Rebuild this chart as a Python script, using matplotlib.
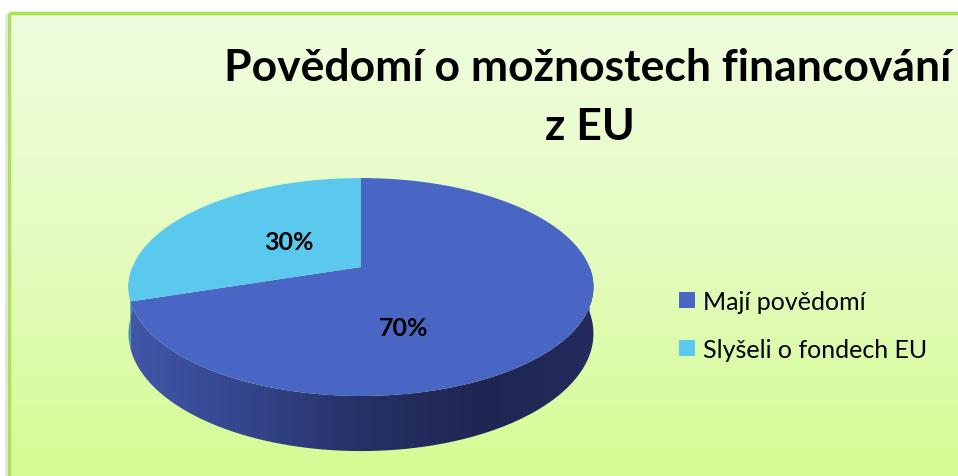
import numpy as np
import matplotlib
matplotlib.use("Agg")
import matplotlib.pyplot as plt
from matplotlib.path import Path
from matplotlib.patches import Polygon
from matplotlib.colors import LinearSegmentedColormap
import matplotlib.transforms as mtransforms

# data
labels = ["Mají povědomí", "Slyšeli o fondech EU"]
values = [70, 30]
title_lines = ["Povědomí o možnostech financování", "z EU"]

colors = ["#4A66C4", "#5BC9EE"]
side_colors = {
    0: ["#4259A9", "#34468E", "#263166", "#1F2652", "#232C5E"],
    1: ["#3A8FB0", "#2F7A99"],
}

W, H = 958, 477

# 3D pie geometry in pixel space
CX, CY = 361, 268      # apex of the pie
RX, RY = 228.5, 105.3  # horizontal / vertical radius
TILT = 0.1835          # perspective strength
DEPTH = 45             # thickness


def project(x, y, z=0.0):
    k = 1.0 / (1.0 + TILT * y)
    return CX + RX * x * k, CY - RY * y * k - DEPTH * z * k


class Perspective(mtransforms.Transform):
    input_dims = output_dims = 2
    is_separable = False
    has_inverse = False

    def transform_non_affine(self, xy):
        xy = np.asarray(xy, float).reshape(-1, 2)
        u, v = project(xy[:, 0], xy[:, 1])
        return np.column_stack([u, v])

    def transform_path_non_affine(self, path):
        pts = []
        for seg, code in path.iter_bezier():
            pts.append(seg(np.linspace(0, 1, 30)))
        verts = np.vstack(pts)
        return Path(self.transform_non_affine(verts))


fig = plt.figure(figsize=(W / 100, H / 100), dpi=100)
fig.patch.set_facecolor("white")
ax = fig.add_axes([0, 0, 1, 1])

# chart area background with vertical gradient
bg = LinearSegmentedColormap.from_list("bg", ["#F0FDDF", "#E4FCC0", "#D4FB92"])
grad = np.linspace(0, 1, 256).reshape(-1, 1)
ax.imshow(grad, cmap=bg, aspect="auto", extent=(9, W + 5, H + 5, 14), zorder=0)
ax.plot([9, 9], [H + 5, 14], color="#A8E552", lw=2.5, zorder=1, solid_capstyle="butt")
ax.plot([9, W + 5], [14, 14], color="#A8E552", lw=2.5, zorder=1, solid_capstyle="butt")
ax.plot([6.5, 6.5], [H + 5, 16], color="#E4E4E4", lw=2, zorder=1)

wedges, texts, autotexts = ax.pie(
    values, colors=colors, startangle=90, counterclock=False,
    autopct=lambda p: f"{p:.0f}%", pctdistance=0.5,
    wedgeprops=dict(linewidth=0),
    textprops=dict(fontsize=18, fontweight="bold", family="Lato", color="black"),
)

persp = Perspective() + ax.transData

# sides of the pie (front half only)
for i, w in enumerate(wedges):
    a0 = max(w.theta1, -180)
    a1 = min(w.theta2, 0)
    if a1 <= a0:
        continue
    ang = np.radians(np.linspace(a0, a1, 120))
    tx, ty = project(np.cos(ang), np.sin(ang), 0)
    bx, by = project(np.cos(ang), np.sin(ang), -1)
    poly = Polygon(np.column_stack([np.r_[tx, bx[::-1]], np.r_[ty, by[::-1]]]),
                   closed=True, facecolor="none", edgecolor="none", zorder=2)
    ax.add_patch(poly)
    cmap = LinearSegmentedColormap.from_list(f"side{i}", side_colors[i])
    x0, x1 = project(-1.02, -0.2)[0], project(1.02, -0.2)[0]
    img = ax.imshow(np.linspace(0, 1, 256).reshape(1, -1), cmap=cmap, aspect="auto",
                    extent=(x0, x1, by.max() + 2, ty.min() - 2), zorder=2)
    img.set_clip_path(poly)

for w in wedges:
    w.set_transform(persp)
    w.set_zorder(3)

label_pos = [(0.17, -0.52), (-0.33, 0.25)]
for t, pos in zip(autotexts, label_pos):
    t.set_position(project(*pos))
    t.set_transform(ax.transData)
    t.set_zorder(5)
for t in texts:
    t.set_visible(False)

ax.set_aspect("auto")
ax.set_xlim(0, W)
ax.set_ylim(H, 0)
ax.axis("off")

# title
ax.text(588, 81, title_lines[0], ha="center", va="baseline", fontsize=32,
        fontweight="bold", family="Lato", zorder=6)
ax.text(590, 140, title_lines[1], ha="center", va="baseline", fontsize=32,
        fontweight="bold", family="Lato", zorder=6)

leg = ax.legend(wedges, labels, loc="upper left", bbox_to_anchor=(679, 291),
                bbox_transform=ax.transData, frameon=False, borderpad=0,
                borderaxespad=0, handlelength=0.64, handleheight=0.64,
                handletextpad=0.32, labelspacing=1.0,
                prop=dict(family="Lato", size=18))

fig.savefig("out.png", dpi=100)
